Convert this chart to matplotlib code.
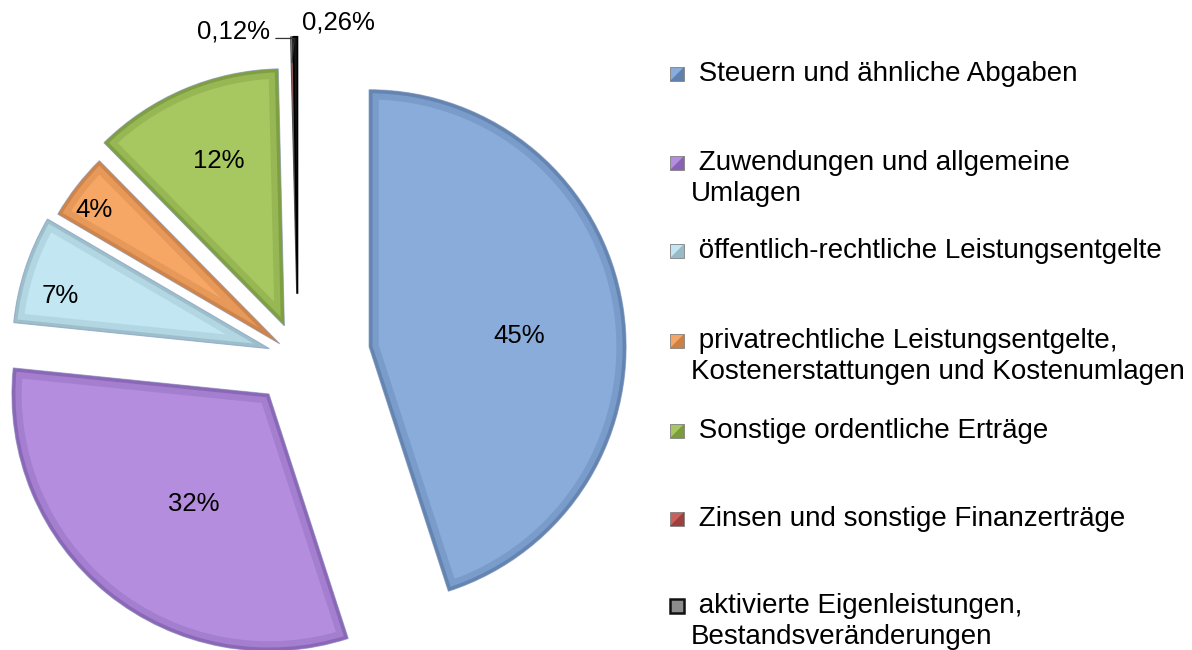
import numpy as np
import matplotlib.pyplot as plt
from matplotlib.patches import Wedge, Rectangle, Polygon

plt.rcParams['font.family'] = ['Liberation Sans', 'DejaVu Sans']

# data
categories = ["Steuern und ähnliche Abgaben",
              "Zuwendungen und allgemeine Umlagen",
              "öffentlich-rechtliche Leistungsentgelte",
              "privatrechtliche Leistungsentgelte, Kostenerstattungen und Kostenumlagen",
              "Sonstige ordentliche Erträge",
              "Zinsen und sonstige Finanzerträge",
              "aktivierte Eigenleistungen, Bestandsveränderungen"]
values = [45.0, 31.6, 6.8, 4.2, 12.0, 0.12, 0.26]
legend_lines = [["Steuern und ähnliche Abgaben"],
                ["Zuwendungen und allgemeine", "Umlagen"],
                ["öffentlich-rechtliche Leistungsentgelte"],
                ["privatrechtliche Leistungsentgelte,", "Kostenerstattungen und Kostenumlagen"],
                ["Sonstige ordentliche Erträge"],
                ["Zinsen und sonstige Finanzerträge"],
                ["aktivierte Eigenleistungen,", "Bestandsveränderungen"]]

# styling
explode = [0.28, 0.18, 0.117, 0.09, 0.136, 0.25, 0.25]
colors = ['#89ACDB', '#B48DDE', '#C3E7F2', '#F7A765', '#A7C861', '#C9605C', '#151515']
shades = ['#4F6F99', '#7652A3', '#86A8B6', '#B9703A', '#6A8830', '#8A3330', '#000000']
lbl_dist = [0.585, 0.52, 0.84, 0.89, 0.69]
lbl_shift = [-5, 4.6, 4, 2, -1.4]

W, H = 1192, 650
R = 257.0          # pie radius in pixels
CX, CY = 298, 358  # pie centre in pixels (from top-left)

fig = plt.figure(figsize=(W / 100, H / 100), dpi=100)
axw = 640
ax = fig.add_axes([0, 0, axw / W, 1])

wedges, _ = ax.pie(values, explode=explode, colors=colors, startangle=90,
                   counterclock=False, radius=1,
                   wedgeprops=dict(edgecolor='#A9B8D6', linewidth=0.8))
ax.set_xlim(-CX / R, (axw - CX) / R)
ax.set_ylim(-(H - CY) / R, CY / R)
ax.set_aspect('auto')
ax.axis('off')

# bevel look: dark band along the inside of every wedge
for w, sh in zip(wedges[:5], shades[:5]):
    for lw, a in [(14, 0.25), (5, 0.5)]:
        b = Wedge(w.center, w.r, w.theta1, w.theta2, fill=False,
                  edgecolor=sh, linewidth=lw, alpha=a)
        ax.add_patch(b)
        b.set_clip_path(w)
wedges[6].set_edgecolor('#000000')
wedges[6].set_linewidth(1.2)
wedges[5].set_edgecolor('#555555')

def mid_point(w, dist, shift=0.0):
    ang = np.deg2rad((w.theta1 + w.theta2) / 2 + shift)
    return (w.center[0] + w.r * dist * np.cos(ang),
            w.center[1] + w.r * dist * np.sin(ang))

fs = 18.5
for i in range(5):
    x, y = mid_point(wedges[i], lbl_dist[i], lbl_shift[i])
    ax.text(x, y, f"{values[i]:.0f}%", ha='center', va='center', fontsize=fs)

# tiny slices
x, y = mid_point(wedges[6], 1.0)
ax.annotate(f"{values[6]:.2f}%".replace('.', ','), xy=(x, y), xytext=(31, 10),
            textcoords='offset points', ha='center', va='center', fontsize=fs)
x, y = mid_point(wedges[5], 0.9)
ax.annotate(f"{values[5]:.2f}%".replace('.', ','), xy=(x, y), xytext=(-42, 22.5),
            textcoords='offset points', ha='center', va='center', fontsize=fs,
            arrowprops=dict(arrowstyle='-', color='#333333', lw=0.9,
                            connectionstyle='angle,angleA=0,angleB=85,rad=0',
                            relpos=(1.0, 0.2), shrinkA=2, shrinkB=0))

# legend drawn by hand
lfs = 20
rows_y = [74, 163, 251, 341, 431, 519, 606]
line_gap = 31
mk = 14
for i, lines in enumerate(legend_lines):
    yc = rows_y[i]
    x0, y0 = 670 / W, 1 - (yc + mk / 2) / H
    mw, mh = mk / W, mk / H
    if i == 6:
        fig.patches.append(Rectangle((x0, y0), mw, mh, transform=fig.transFigure,
                                     facecolor='#8C8C8C', edgecolor='#111111', lw=1.8))
    else:
        fig.patches.append(Rectangle((x0, y0), mw, mh, transform=fig.transFigure,
                                     facecolor=colors[i], edgecolor='#7F7F7F', lw=0.6))
        fig.patches.append(Polygon([(x0, y0), (x0 + mw, y0), (x0 + mw, y0 + mh)],
                                   closed=True, transform=fig.transFigure,
                                   facecolor=shades[i], edgecolor='none', alpha=0.7))
    fig.text(691 / W, 1 - yc / H, " " + lines[0], ha='left', va='center', fontsize=lfs)
    if len(lines) > 1:
        fig.text(691 / W, 1 - (yc + line_gap) / H, lines[1], ha='left', va='center',
                 fontsize=lfs)

fig.savefig('out.png', dpi=100)
